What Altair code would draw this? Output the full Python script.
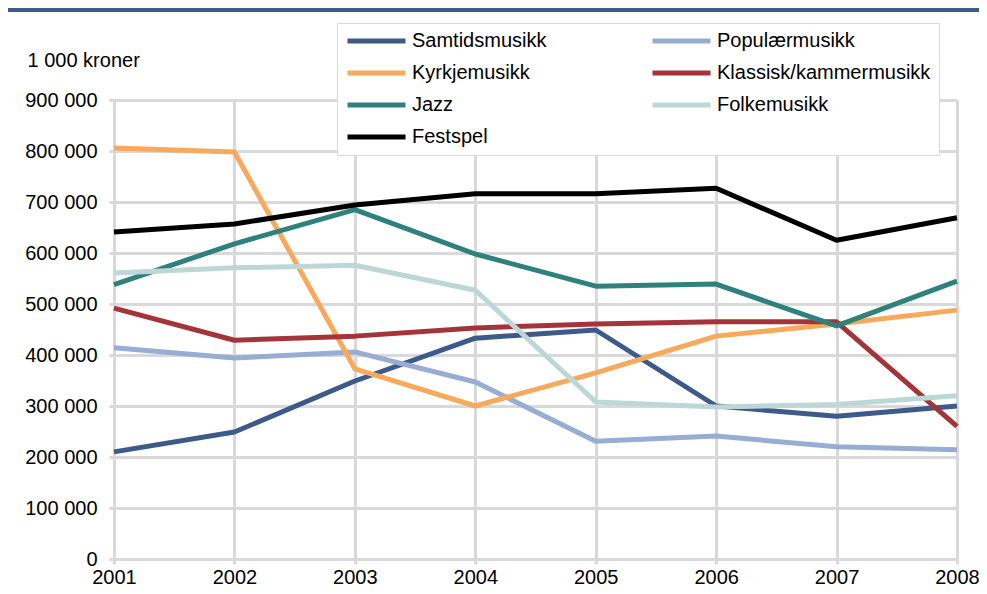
import altair as alt
import pandas as pd

years = [2001, 2002, 2003, 2004, 2005, 2006, 2007, 2008]

series_names = ["Samtidsmusikk", "Populærmusikk", "Kyrkjemusikk",
                "Klassisk/kammermusikk", "Jazz", "Folkemusikk", "Festspel"]
series_colors = ["#3D5A8A", "#97ADD3", "#F8A95C", "#A5343A",
                 "#2E827B", "#BDD7D7", "#000000"]
# legend fills column by column: left column first, then right column
legend_order = ["Samtidsmusikk", "Kyrkjemusikk", "Jazz", "Festspel",
                "Populærmusikk", "Klassisk/kammermusikk", "Folkemusikk"]

samtidsmusikk = [210000, 249000, 349000, 433000, 449000, 300000, 280000, 300000]
popularmusikk = [414000, 394000, 406000, 347000, 231000, 241000, 220000, 214000]
kyrkjemusikk = [806000, 798000, 373000, 300000, 365000, 437000, 461000, 488000]
klassisk = [492000, 429000, 437000, 453000, 461000, 465000, 465000, 260000]
jazz = [538000, 618000, 685000, 598000, 535000, 539000, 457000, 545000]
folkemusikk = [561000, 571000, 576000, 527000, 308000, 298000, 303000, 320000]
festspel = [641000, 657000, 694000, 716000, 716000, 727000, 625000, 669000]

y_ticks = [0, 100000, 200000, 300000, 400000, 500000, 600000, 700000, 800000, 900000]

all_values = [samtidsmusikk, popularmusikk, kyrkjemusikk, klassisk,
              jazz, folkemusikk, festspel]
rows = []
for name, vals in zip(series_names, all_values):
    for yr, v in zip(years, vals):
        rows.append({"year": yr, "value": v, "series": name})
df = pd.DataFrame(rows)

color_map = dict(zip(series_names, series_colors))
legend_colors = [color_map[n] for n in legend_order]

FONT = "Liberation Sans"
GRID = "#D9D9D9"

lines = alt.Chart(df).mark_line(strokeWidth=5, strokeJoin="round").encode(
    x=alt.X("year:Q",
            scale=alt.Scale(domain=[2001, 2008], nice=False, zero=False),
            axis=alt.Axis(values=years, format="d", title=None,
                          labelFontSize=20, labelFont=FONT, labelColor="black",
                          labelPadding=3, tickSize=5, tickWidth=3, tickColor=GRID,
                          domainColor=GRID, domainWidth=3,
                          grid=True, gridColor=GRID, gridWidth=3,
                          labelFlush=False)),
    y=alt.Y("value:Q",
            scale=alt.Scale(domain=[0, 900000], nice=False),
            axis=alt.Axis(values=y_ticks,
                          labelExpr="replace(format(datum.value, ','), regexp(',', 'g'), ' ')",
                          title="1 000 kroner", titleAngle=0, titleX=-87, titleY=-40,
                          titleAlign="left", titleBaseline="middle",
                          titleFontSize=20, titleFont=FONT, titleFontWeight="normal",
                          titleColor="black",
                          labelFontSize=20, labelFont=FONT, labelColor="black",
                          labelPadding=12, tickSize=5, tickWidth=3, tickColor=GRID,
                          domainColor=GRID, domainWidth=3,
                          grid=True, gridColor=GRID, gridWidth=3)),
    color=alt.Color("series:N",
                    scale=alt.Scale(domain=legend_order, range=legend_colors),
                    legend=alt.Legend(orient="none", legendX=223, legendY=-77,
                                      columns=2, columnPadding=103, rowPadding=12,
                                      clipHeight=20,
                                      symbolType="stroke", symbolSize=3364,
                                      symbolStrokeWidth=5, labelFontSize=20,
                                      labelFont=FONT, labelColor="black",
                                      labelOffset=4, fillColor="white",
                                      strokeColor=GRID, padding=8, title=None,
                                      labelLimit=400)),
)

band = alt.Chart(pd.DataFrame({"a": [0]})).mark_rule(
    color="#3F5A87", strokeWidth=4, clip=False
).encode(x=alt.value(-106), x2=alt.value(865), y=alt.value(-90))

chart = alt.layer(band, lines).properties(
    width=843, height=459,
    padding={"left": 106, "top": 92, "right": 22, "bottom": 27},
    autosize=alt.AutoSizeParams(type="none"),
).configure_view(stroke=None)

chart.save("out.html", embed_options={"renderer": "svg", "actions": False})
